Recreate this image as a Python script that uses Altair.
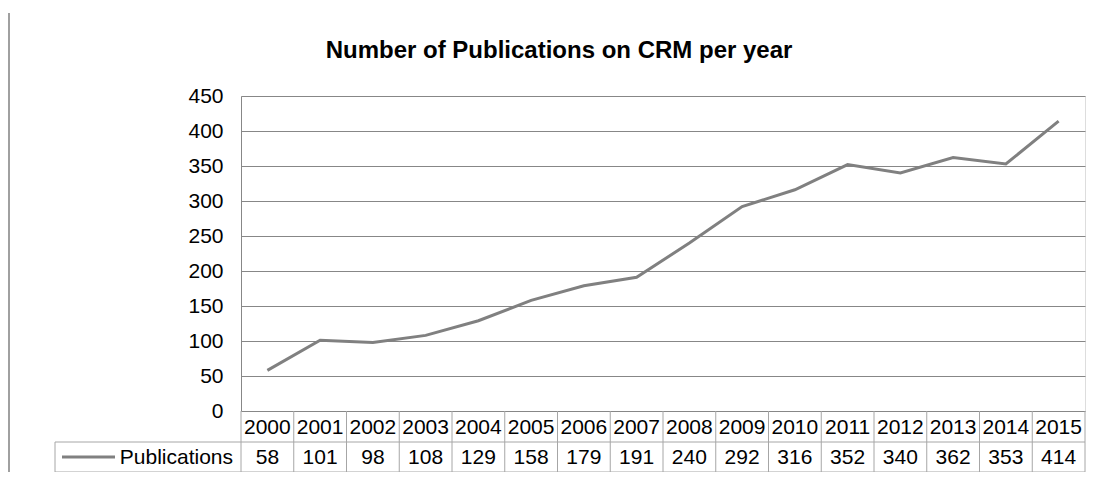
import altair as alt
import pandas as pd

years = [2000, 2001, 2002, 2003, 2004, 2005, 2006, 2007, 2008, 2009, 2010, 2011, 2012, 2013, 2014, 2015]
publications = [58, 101, 98, 108, 129, 158, 179, 191, 240, 292, 316, 352, 340, 362, 353, 414]
y_ticks = [0, 50, 100, 150, 200, 250, 300, 350, 400, 450]
series_name = "Publications"
title_text = "Number of Publications on CRM per year"

FONT = "Liberation Sans"
GRID = "#878787"
TABLE = "#a6a6a6"
LINE = "#808080"

W, H = 844, 315
ROW1_TOP, ROW_SEP, ROW2_BOT = 315, 346, 376
LEG_LEFT = -186

df = pd.DataFrame({"year": years, "value": publications})
bounds = pd.DataFrame({"b": [y - 0.5 for y in years] + [years[-1] + 0.5]})
one = pd.DataFrame({"k": [0]})

xscale = alt.Scale(domain=[years[0] - 0.5, years[-1] + 0.5], nice=False, zero=False)

line = alt.Chart(df).mark_line(color=LINE, strokeWidth=3).encode(
    x=alt.X("year:Q", scale=xscale, axis=None),
    y=alt.Y("value:Q", scale=alt.Scale(domain=[0, 450], nice=False),
            axis=alt.Axis(values=y_ticks, title=None, grid=True, gridColor=GRID,
                          domainColor=GRID, ticks=False, labelFontSize=21,
                          labelFont=FONT, labelColor="black", labelPadding=18)),
)

header = alt.Chart(df).mark_text(fontSize=21, font=FONT, color="black", baseline="middle").encode(
    x=alt.X("year:Q", scale=xscale, axis=None),
    y=alt.value((ROW1_TOP + ROW_SEP) / 2 + 1),
    text=alt.Text("year:N"),
)

vals = alt.Chart(df).mark_text(fontSize=21, font=FONT, color="black", baseline="middle").encode(
    x=alt.X("year:Q", scale=xscale, axis=None),
    y=alt.value((ROW_SEP + ROW2_BOT) / 2 + 1),
    text=alt.Text("value:Q"),
)

vlines = alt.Chart(bounds).mark_rule(color=TABLE, strokeWidth=1).encode(
    x=alt.X("b:Q", scale=xscale, axis=None),
    y=alt.value(ROW1_TOP),
    y2=alt.value(ROW2_BOT),
)

hsep = alt.Chart(one).mark_rule(color=TABLE, strokeWidth=1).encode(
    x=alt.value(LEG_LEFT), x2=alt.value(W), y=alt.value(ROW_SEP))
hbot = alt.Chart(one).mark_rule(color=TABLE, strokeWidth=1).encode(
    x=alt.value(LEG_LEFT), x2=alt.value(W), y=alt.value(ROW2_BOT))
legleft = alt.Chart(one).mark_rule(color=TABLE, strokeWidth=1).encode(
    x=alt.value(LEG_LEFT), y=alt.value(ROW_SEP), y2=alt.value(ROW2_BOT))
swatch = alt.Chart(one).mark_rule(color=LINE, strokeWidth=3).encode(
    x=alt.value(-179), x2=alt.value(-126), y=alt.value((ROW_SEP + ROW2_BOT) / 2))
legtext = alt.Chart(one).mark_text(fontSize=21, font=FONT, color="black", align="right",
                                   baseline="middle", text=series_name).encode(
    x=alt.value(-8), y=alt.value((ROW_SEP + ROW2_BOT) / 2 + 1))
border = alt.Chart(one).mark_rule(color="#a0a0a0", strokeWidth=2).encode(
    x=alt.value(-232), y=alt.value(-83), y2=alt.value(400))
title = alt.Chart(one).mark_text(fontSize=24, font=FONT, fontWeight="bold", color="black",
                                 align="center", baseline="alphabetic", text=title_text).encode(
    x=alt.value(318), y=alt.value(-38))

chart = alt.layer(vlines, hsep, hbot, legleft, line, header, vals, swatch, legtext, border, title).properties(
    width=W, height=H,
    padding={"left": 233, "top": 88, "right": 12, "bottom": 61},
    autosize=alt.AutoSizeParams(type="none"),
).configure_view(stroke=None).configure(background="white")

chart.save("out.html", embed_options={"renderer": "svg", "actions": False})
